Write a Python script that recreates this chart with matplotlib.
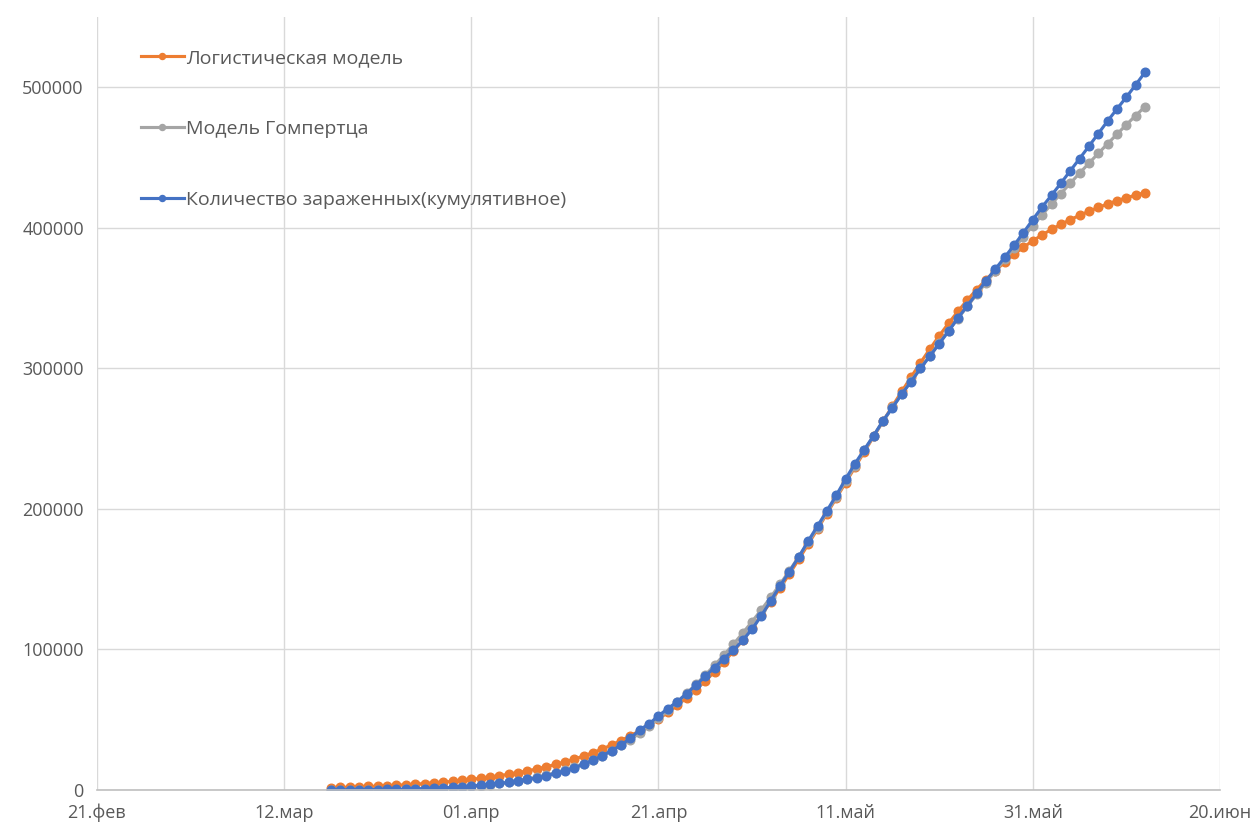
import matplotlib
matplotlib.use("Agg")
import matplotlib.pyplot as plt
import pandas as pd

plt.rcParams['font.family'] = ['Open Sans', 'DejaVu Sans']

# daily series, 17 March .. 12 June 2020
start_date = "2020-03-17"

logistic = [
    1700, 1900, 2100, 2300, 2600, 2800, 3100, 3400, 3800, 4200, 4600, 5100, 5600, 6200, 6900,
    7600, 8400, 9200, 10200, 11200, 12400, 13600, 15000, 16500, 18200, 20000, 22000, 24200,
    26600, 29200, 32100, 35200, 38600, 42200, 46200, 50500, 55200, 60200, 65600, 71400, 77600,
    84200, 91200, 98700, 106500,
    115500, 124500, 133900, 143700, 153800, 164200, 174900, 185700, 196700, 207700, 218700,
    229700, 240700, 251600, 262400, 273100, 283600, 293900, 304000, 313800, 323200, 332100,
    340600, 348600, 356100, 363100, 369600, 375600, 381200, 386200, 390800,
    395000, 398900, 402500, 405800, 408900, 411800, 414500, 417000, 419300, 421400, 423300, 425100,
]

gompertz = [
    30, 40, 60, 80, 120, 170, 240, 320, 440, 580, 770, 1000, 1300, 1700, 2100,
    2600, 3200, 3900, 4700, 5600, 6600, 7800, 9100, 10600, 12300, 14200, 16400, 18800, 21500,
    24400, 27900, 31700, 35900, 40500, 45500, 50900, 56600, 62500, 68700, 75100, 81800, 88800,
    96100, 103700, 111600,
    119800, 128300, 137200, 146500, 156100, 166000, 176200, 186700, 197500, 208600, 219700,
    230800, 241600, 252100, 262300, 272200, 281800, 291100, 300200, 309100, 318000, 326800,
    335500, 344100, 352600, 361000, 369300, 377500, 385600, 393600, 401500,
    409300, 416900, 424400, 431700, 438900, 446000, 453000, 459900, 466700, 473400, 479900, 486300,
]

cases = [
    114, 147, 199, 253, 306, 367, 438, 495, 658, 840, 1036, 1264, 1534, 1836, 2337,
    2777, 3548, 4149, 4731, 5389, 6343, 7497, 8672, 10131, 11917, 13584, 15770, 18328,
    21102, 24490, 27938, 32008, 36793, 42853, 47121, 52763, 57999, 62773, 68622, 74588,
    80949, 87147, 93558, 99399, 106498,
    114431, 124054, 134687, 145268, 155370, 165929, 177160, 187859, 198676, 209688, 221344,
    232243, 242271, 252245, 262843, 272043, 281752, 290678, 299941, 308705, 317554, 326448,
    335882, 344481, 353427, 362342, 370680, 379051, 387623, 396575, 405843,
    414878, 423186, 431715, 440538, 449256, 458102, 467073, 476043, 484630, 493023, 501800, 510761,
]

series_labels = ["Логистическая модель", "Модель Гомпертца", "Количество зараженных(кумулятивное)"]
series_colors = ["#ED7D31", "#A5A5A5", "#4472C4"]

tick_dates = ["2020-02-21", "2020-03-12", "2020-04-01", "2020-04-21",
              "2020-05-11", "2020-05-31", "2020-06-20"]
tick_labels = ["21.фев", "12.мар", "01.апр", "21.апр", "11.май", "31.май", "20.июн"]

dates = pd.date_range(start_date, periods=len(cases), freq="D")

fig = plt.figure(figsize=(12.56, 8.27), dpi=100)
ax = fig.add_axes([0.0772, 0.0447, 0.8941, 0.9347])

for values, label, color in zip([logistic, gompertz, cases], series_labels, series_colors):
    ax.plot(dates, values, color=color, linewidth=2.25, marker="o", markersize=6.2,
            label=label)

ticks = pd.to_datetime(tick_dates)
ax.set_xlim(ticks[0], ticks[-1])
ax.set_xticks(ticks)
ax.set_xticklabels(tick_labels)
ax.set_ylim(0, 550000)
ax.set_yticks(range(0, 500001, 100000))
ax.set_yticklabels([str(v) for v in range(0, 500001, 100000)])

ax.grid(True, color="#d9d9d9", linewidth=1)
ax.set_axisbelow(True)
for side in ["top", "right", "left"]:
    ax.spines[side].set_visible(False)
ax.spines["bottom"].set_color("#bfbfbf")
ax.spines["bottom"].set_linewidth(1.2)
ax.tick_params(length=0, labelsize=13, labelcolor="#595959")
ax.tick_params(axis="y", pad=9.5)
ax.tick_params(axis="x", pad=10)

leg = ax.legend(loc="upper left", bbox_to_anchor=(0.0235, 0.981), frameon=False,
                fontsize=14, labelspacing=2.72, handlelength=2.2, handletextpad=0.1,
                markerscale=0.7)
for text in leg.get_texts():
    text.set_color("#595959")

fig.savefig("out.png", dpi=100)
